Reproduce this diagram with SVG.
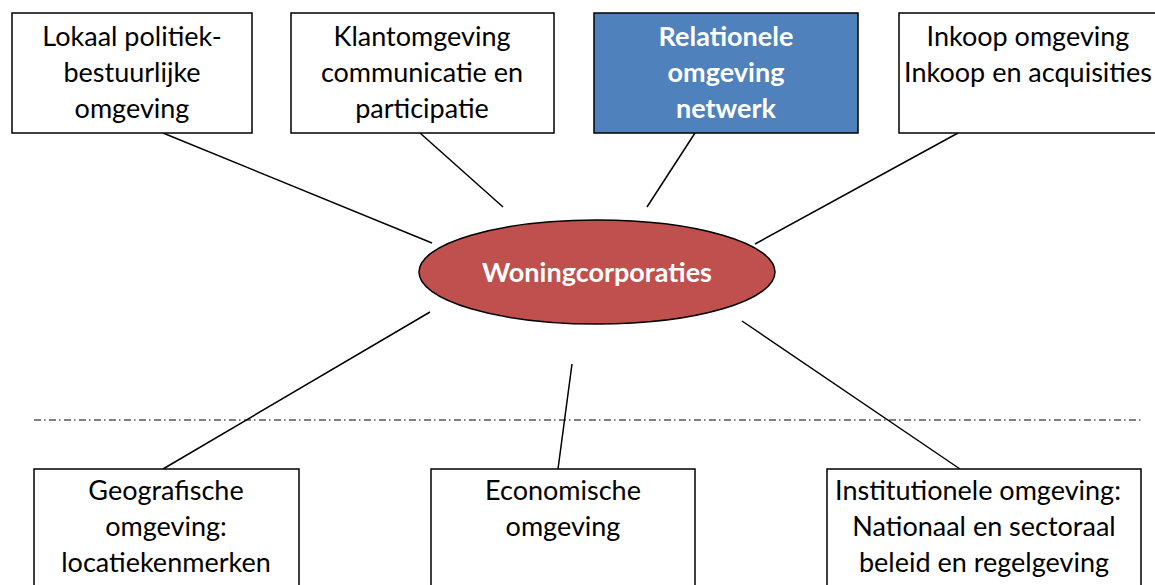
<svg xmlns="http://www.w3.org/2000/svg" width="1155" height="585" viewBox="0 0 1155 585">
  <style>
    .box { fill: #ffffff; stroke: #000000; stroke-width: 1.5; }
    .blue { fill: #4F81BD; }
    .lbl { font-family: Lato, "Liberation Sans", sans-serif; font-size: 27px; fill: #000000; text-anchor: middle; }
    .bold { font-weight: bold; fill: #ffffff; }
    .conn line { stroke: #000000; stroke-width: 1.5; }
    .divider { stroke: #000000; stroke-width: 1.2; stroke-dasharray: 7 3 1.5 3.5; }
  </style>
  <rect width="1155" height="585" fill="#ffffff"/>

  <!-- connectors between the centre and the surrounding environments -->
  <g id="connectors" class="conn">
    <line x1="163" y1="133" x2="432" y2="243"/>
    <line x1="420" y1="133" x2="503" y2="207"/>
    <line x1="695" y1="133" x2="647" y2="207"/>
    <line x1="958" y1="133" x2="755" y2="244"/>
    <line x1="430" y1="312" x2="163" y2="469"/>
    <line x1="572" y1="364" x2="558" y2="469"/>
    <line x1="742" y1="321" x2="960" y2="469"/>
  </g>

  <!-- dash-dot separator -->
  <line class="divider" x1="34" y1="420" x2="1142" y2="420"/>

  <g id="lokaal">
    <rect class="box" x="12" y="13" width="240" height="120"/>
    <text class="lbl" x="132" y="46">Lokaal politiek-</text>
    <text class="lbl" x="132" y="82">bestuurlijke</text>
    <text class="lbl" x="132" y="118">omgeving</text>
  </g>

  <g id="klant">
    <rect class="box" x="291" y="13" width="263" height="120"/>
    <text class="lbl" x="422" y="46">Klantomgeving</text>
    <text class="lbl" x="422" y="82">communicatie en</text>
    <text class="lbl" x="422" y="118">participatie</text>
  </g>

  <g id="relationeel">
    <rect class="box blue" x="594" y="13" width="264" height="120"/>
    <text class="lbl bold" x="726" y="46">Relationele</text>
    <text class="lbl bold" x="726" y="82">omgeving</text>
    <text class="lbl bold" x="726" y="118">netwerk</text>
  </g>

  <g id="inkoop">
    <rect class="box" x="899" y="13" width="270" height="120"/>
    <text class="lbl" x="1028" y="46">Inkoop omgeving</text>
    <text class="lbl" x="1028" y="82">Inkoop en acquisities</text>
  </g>

  <g id="woningcorporaties">
    <ellipse cx="597" cy="272" rx="178" ry="52" fill="#C0504D" stroke="#000000" stroke-width="1.5"/>
    <text class="lbl bold" x="597" y="282">Woningcorporaties</text>
  </g>

  <g id="geografisch">
    <rect class="box" x="34" y="469" width="265" height="130"/>
    <text class="lbl" x="166" y="500">Geografische</text>
    <text class="lbl" x="166" y="536">omgeving:</text>
    <text class="lbl" x="166" y="572">locatiekenmerken</text>
  </g>

  <g id="economisch">
    <rect class="box" x="431" y="469" width="264" height="130"/>
    <text class="lbl" x="563" y="500">Economische</text>
    <text class="lbl" x="563" y="536">omgeving</text>
  </g>

  <g id="institutioneel">
    <rect class="box" x="827" y="469" width="314" height="130"/>
    <text class="lbl" x="978" y="500">Institutionele omgeving:</text>
    <text class="lbl" x="984" y="536">Nationaal en sectoraal</text>
    <text class="lbl" x="984" y="572">beleid en regelgeving</text>
  </g>
</svg>
